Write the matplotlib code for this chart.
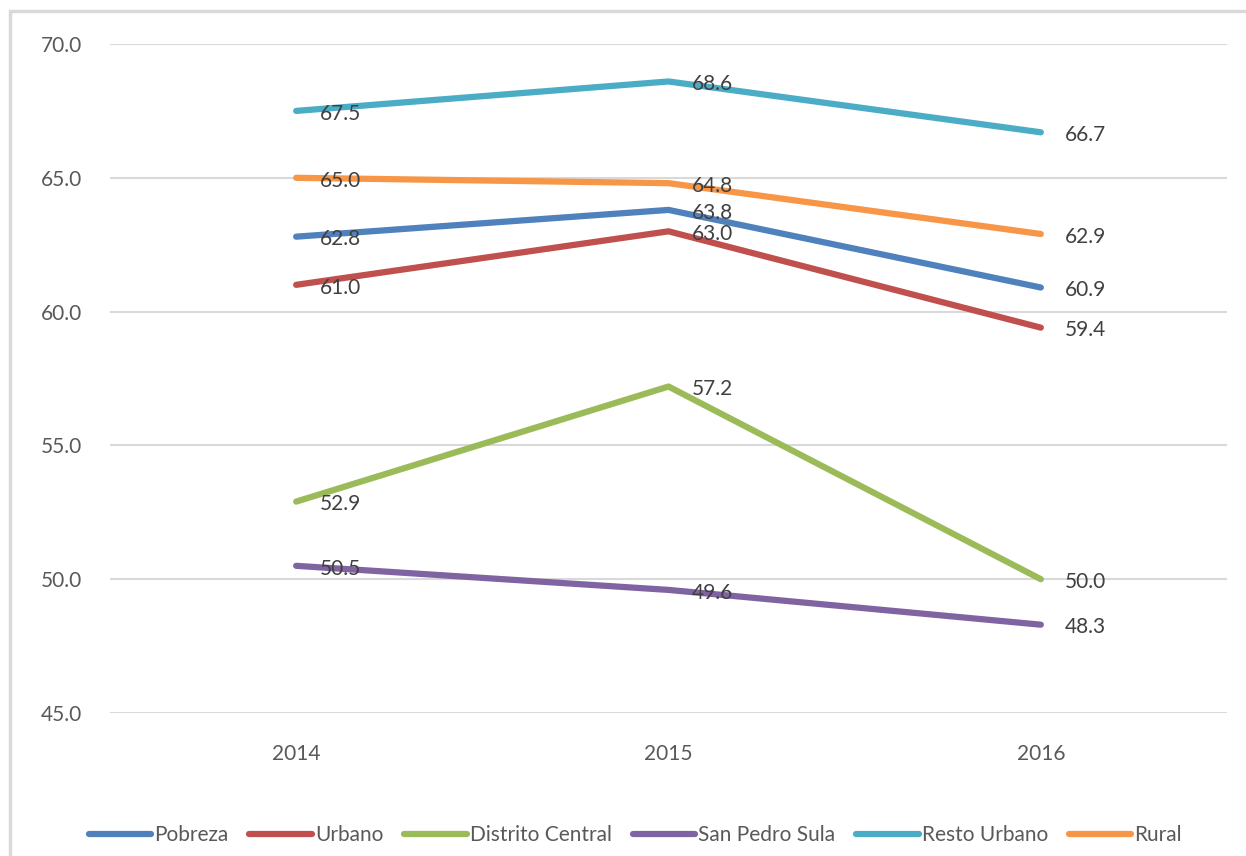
import matplotlib.pyplot as plt
from matplotlib.patches import Rectangle

years = ["2014", "2015", "2016"]
series_names = ["Pobreza", "Urbano", "Distrito Central", "San Pedro Sula", "Resto Urbano", "Rural"]
pobreza = [62.8, 63.8, 60.9]
urbano = [61.0, 63.0, 59.4]
distrito_central = [52.9, 57.2, 50.0]
san_pedro_sula = [50.5, 49.6, 48.3]
resto_urbano = [67.5, 68.6, 66.7]
rural = [65.0, 64.8, 62.9]
y_ticks = [45.0, 50.0, 55.0, 60.0, 65.0, 70.0]

colors = ["#4F81BD", "#C0504D", "#9BBB59", "#8064A2", "#4BACC6", "#F79646"]
all_series = [pobreza, urbano, distrito_central, san_pedro_sula, resto_urbano, rural]

plt.rcParams['font.family'] = ['Lato', 'DejaVu Sans']

fig = plt.figure(figsize=(12.46, 8.56), dpi=100)
ax = fig.add_axes([110 / 1246, 1 - 713 / 856, 1117 / 1246, 669 / 856])

# outer chart border (cropped at right and bottom)
fig.patches.append(Rectangle((10 / 1246, -0.1), 1.2, 1 - 11 / 856 + 0.1,
                             transform=fig.transFigure, fill=False,
                             edgecolor="#D9D9D9", linewidth=2.5))

x = list(range(len(years)))
for name, vals, c in zip(series_names, all_series, colors):
    ax.plot(x, vals, color=c, linewidth=4.5, solid_capstyle="round", label=name, zorder=3)

for vals in all_series:
    for xi, v in zip(x, vals):
        ax.annotate(f"{v:.1f}", (xi, v), xytext=(17, -2), textcoords="offset points",
                    ha="left", va="center", fontsize=15, color="#404040", zorder=5)

ax.set_xlim(-0.5, 2.5)
ax.set_ylim(45, 70)
ax.set_yticks(y_ticks)
ax.set_yticklabels([f"{t:.1f}" for t in y_ticks])
ax.set_xticks(x)
ax.set_xticklabels(years)
ax.grid(axis="y", color="#D9D9D9", linewidth=1.5, zorder=0)
ax.set_axisbelow(True)
for s in ax.spines.values():
    s.set_visible(False)
ax.tick_params(length=0, labelsize=15, labelcolor="#595959")
ax.tick_params(axis="y", pad=20)
ax.tick_params(axis="x", pad=22)

fig.legend(loc="center", bbox_to_anchor=(0.51, 1 - 835 / 856), ncol=6, frameon=False,
           fontsize=15, handlelength=3.0, handletextpad=0.15, columnspacing=1.0,
           labelcolor="#595959")

fig.savefig("out.png", dpi=100)
